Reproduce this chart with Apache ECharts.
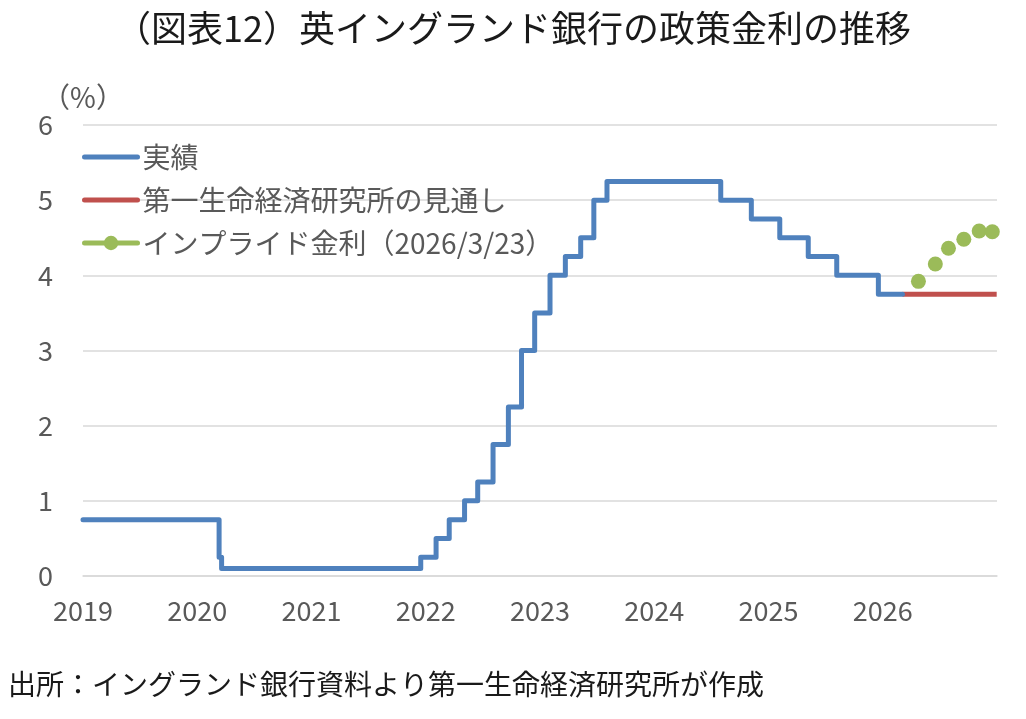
<!DOCTYPE html>
<html>
<head>
<meta charset="utf-8">
<script src="https://cdn.jsdelivr.net/npm/echarts@6/dist/echarts.min.js"></script>
<style>
html,body{margin:0;padding:0;background:#fff;}
#c{width:1026px;height:719px;}
</style>
</head>
<body>
<div id="c"></div>
<script>
// ---- data ----
const titleText = '（図表12）英イングランド銀行の政策金利の推移';
const sourceText = '出所：イングランド銀行資料より第一生命経済研究所が作成';
const seriesNames = ['実績', '第一生命経済研究所の見通し', 'インプライド金利（2026/3/23）'];
const yearTicks = [2019, 2020, 2021, 2022, 2023, 2024, 2025, 2026];

// actual Bank Rate: date of change -> new rate (%)
const actualDates = ['2019-01-01','2020-03-11','2020-03-19','2021-12-16','2022-02-03','2022-03-17','2022-05-05','2022-06-16','2022-08-04','2022-09-22','2022-11-03','2022-12-15','2023-02-02','2023-03-23','2023-05-11','2023-06-22','2023-08-03','2024-08-01','2024-11-07','2025-02-06','2025-05-08','2025-08-07','2025-12-18','2026-03-05'];
const actualRates = [0.75, 0.25, 0.10, 0.25, 0.50, 0.75, 1.00, 1.25, 1.75, 2.25, 3.00, 3.50, 4.00, 4.25, 4.50, 5.00, 5.25, 5.00, 4.75, 4.50, 4.25, 4.00, 3.75, 3.75];

// forecast
const forecastDates = ['2026-03-05','2026-12-31'];
const forecastRates = [3.75, 3.75];

// market implied rates
const impliedDates = ['2026-04-25','2026-06-18','2026-07-30','2026-09-17','2026-11-05','2026-12-17'];
const impliedRates = [3.92, 4.15, 4.36, 4.48, 4.59, 4.58];

// ---- helpers ----
function toYear(s){
  const d = Date.parse(s + 'T00:00:00Z');
  const y = new Date(d).getUTCFullYear();
  const a = Date.UTC(y,0,1), b = Date.UTC(y+1,0,1);
  return y + (d - a) / (b - a);
}
function pairs(dates, vals){ return dates.map((d,i)=>[toYear(d), vals[i]]); }

const FONT = '"Noto Sans CJK JP", "Noto Sans", sans-serif';
const GREY = '#595959';
const BLUE = '#4F81BD', RED = '#C0504D', GREEN = '#9BBB59';

const chart = echarts.init(document.getElementById('c'));
chart.setOption({
  backgroundColor: '#fff',
  animation: false,
  textStyle: { fontFamily: FONT },
  title: [
    { text: titleText, left: 'center', top: 5,
      textStyle: { fontFamily: FONT, fontSize: 36, fontWeight: 'normal', color: '#1a1a1a' } },
    { text: sourceText, left: 3, top: 665,
      textStyle: { fontFamily: FONT, fontSize: 28, fontWeight: 'normal', color: '#1a1a1a' } }
  ],
  legend: {
    orient: 'vertical', left: 77, top: 138,
    itemWidth: 53, itemHeight: 18, itemGap: 15,
    textStyle: { fontFamily: FONT, fontSize: 28, color: GREY },
    data: [
      { name: seriesNames[0], itemStyle: { opacity: 0 }, lineStyle: { color: BLUE, width: 5, cap: 'round', opacity: 1 } },
      { name: seriesNames[1], itemStyle: { opacity: 0 }, lineStyle: { color: RED, width: 5, cap: 'round', opacity: 1 } },
      { name: seriesNames[2], lineStyle: { color: GREEN, width: 5, cap: 'round', opacity: 1 } }
    ]
  },
  grid: { left: 83, right: 29, top: 125, bottom: 143 },
  xAxis: {
    type: 'value', min: 2019, max: 2027, interval: 1,
    axisLine: { show: true, lineStyle: { color: '#d9d9d9', width: 1.5 } },
    axisTick: { show: false },
    splitLine: { show: false },
    axisLabel: {
      fontFamily: FONT, fontSize: 27, color: GREY, margin: 21,
      formatter: v => yearTicks.indexOf(Math.round(v)) >= 0 ? String(Math.round(v)) : ''
    }
  },
  yAxis: {
    type: 'value', min: 0, max: 6, interval: 1,
    name: '（%）', nameLocation: 'end', nameGap: -2,
    nameTextStyle: { fontFamily: FONT, fontSize: 28, color: GREY, align: 'center', padding: [0,0,0,0] },
    axisLine: { show: false }, axisTick: { show: false },
    splitLine: { lineStyle: { color: '#d9d9d9', width: 1.5 } },
    axisLabel: { fontFamily: FONT, fontSize: 27, color: GREY, margin: 30 }
  },
  series: [
    { name: seriesNames[0], type: 'line', step: 'end', data: pairs(actualDates, actualRates),
      showSymbol: false, symbol: 'none', color: BLUE,
      lineStyle: { color: BLUE, width: 5, cap: 'round', join: 'round' }, z: 3 },
    { name: seriesNames[1], type: 'line', data: pairs(forecastDates, forecastRates),
      showSymbol: false, symbol: 'none', color: RED,
      lineStyle: { color: RED, width: 5 }, z: 2 },
    { name: seriesNames[2], type: 'line', data: pairs(impliedDates, impliedRates),
      symbol: 'circle', symbolSize: 15, showSymbol: true, color: GREEN,
      itemStyle: { color: GREEN },
      lineStyle: { color: GREEN, width: 0, opacity: 0 }, z: 4 }
  ]
});
</script>
</body>
</html>
